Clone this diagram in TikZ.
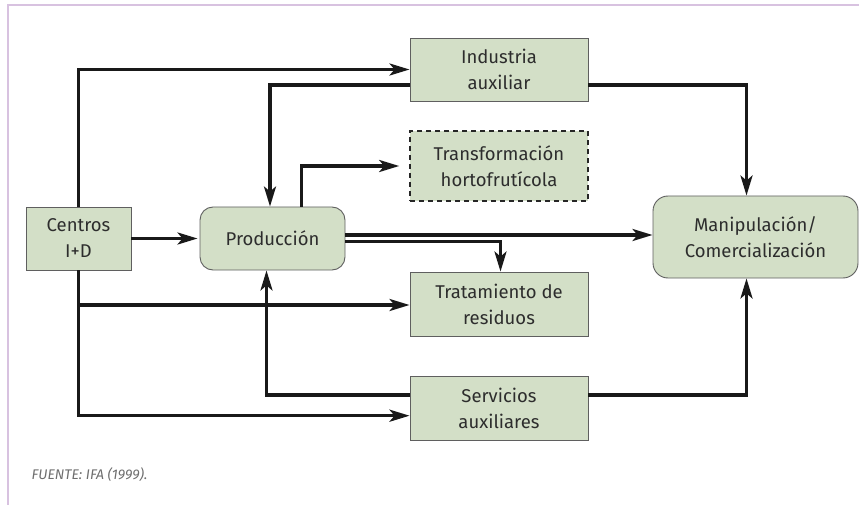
\documentclass[tikz,border=0pt]{standalone}
\usepackage{fontspec}
\setmainfont{Fira Sans}
\usepackage{xcolor}
\usepackage{tikz}
\usetikzlibrary{arrows.meta,calc}
\definecolor{boxgreen}{RGB}{211,223,199}
\definecolor{boxedge}{RGB}{95,95,95}
\definecolor{framelila}{RGB}{216,194,224}
\definecolor{textgray}{RGB}{45,45,45}
\definecolor{notegray}{RGB}{110,110,110}

\begin{document}
\begin{tikzpicture}[x=1pt, y=-1pt,
    unit/.style={draw=boxedge, fill=boxgreen, line width=0.9pt,
        text=textgray, align=center, inner sep=2pt,
        font=\fontsize{18.5}{26}\selectfont},
    unitr/.style={unit, rounded corners=13pt},
    flow/.style={-{Stealth[length=20pt, width=12pt, inset=5pt]},
        line width=3.3pt, black!90}
]
\useasboundingbox (0,0) rectangle (859,505);
% marco
\draw[framelila, line width=2.2pt] (8,505) -- (8,5) -- (859,5);

\node[unit, minimum width=105pt, minimum height=63pt] (cen) at (78.5,238.5)
    {Centros\\I+D};
\node[unitr, minimum width=145pt, minimum height=63pt] (prod) at (272.5,238.5)
    {Producción};
\node[unit, minimum width=178pt, minimum height=63pt] (ind) at (499,69.5)
    {Industria\\auxiliar};
\node[unit, dashed, dash pattern=on 5pt off 4pt, line width=1.6pt,
    draw=black!85, minimum width=178pt, minimum height=70pt] (trans) at (499,166)
    {Transformación\\hortofrutícola};
\node[unit, minimum width=178pt, minimum height=64pt] (trat) at (499,304)
    {Tratamiento de\\residuos};
\node[unit, minimum width=178pt, minimum height=64pt] (serv) at (499,408)
    {Servicios\\auxiliares};
\node[unitr, rounded corners=15pt, minimum width=205pt, minimum height=82pt]
    (man) at (755.5,237) {Manipulación/\\Comercialización};

\node[font=\fontsize{14}{16}\selectfont\itshape, text=notegray, anchor=west]
    (src) at (28,475) {FUENTE: IFA (1999).};

% conexiones
\draw[flow] (cen.north) |- (ind.west);
\draw[flow] ([yshift=-15.5pt]ind.west) -| ([xshift=-2.5pt]prod.north);
\draw[flow, shorten >=10pt] ([xshift=29pt]prod.north) |- (trans.west);
\draw[flow, shorten >=2pt] (cen) -- (prod);
\draw[flow] ([yshift=3.5pt]prod.east) -- ([yshift=3.5pt]prod.east -| man.west);
\draw[flow] ([yshift=-3pt]prod.east) -| ([xshift=1.5pt]trat.north);
\draw[flow] (cen.south) |- ([yshift=-1pt]trat.west);
\draw[flow] (cen.south) |- ([yshift=-7.7pt]serv.west);
\draw[flow] ([yshift=13pt]serv.west) -| ([xshift=-6pt]prod.south);
\draw[flow] ([yshift=-15.5pt]ind.east) -| ([xshift=-9pt]man.north);
\draw[flow] ([yshift=13pt]serv.east) -| ([xshift=-9pt]man.south);
\end{tikzpicture}
\end{document}
